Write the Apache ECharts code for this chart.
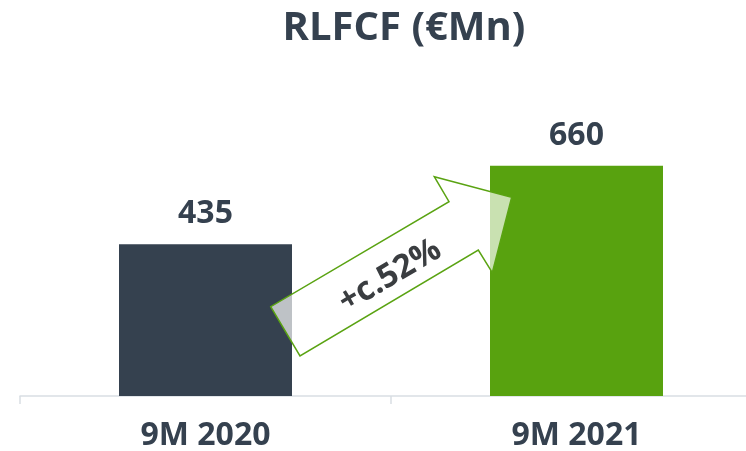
<!DOCTYPE html>
<html>
<head>
<meta charset="utf-8">
<script src="https://cdn.jsdelivr.net/npm/echarts@6/dist/echarts.min.js"></script>
<style>html,body{margin:0;padding:0;background:#fff}#c{width:746px;height:451px}</style>
</head>
<body>
<div id="c"></div>
<script>
const title = 'RLFCF (€Mn)';
const categories = ['9M 2020', '9M 2021'];
const values = [435, 660];
const barColors = ['#35414f', '#58a20f'];
const growthLabel = '+c.52%';

const chart = echarts.init(document.getElementById('c'), null, {renderer: 'canvas'});
const textColor = '#35414f';
const font = '"Open Sans", Lato, sans-serif';

chart.setOption({
  animation: false,
  title: {
    text: title,
    left: 399,
    top: 4,
    textAlign: 'center',
    textStyle: {fontFamily: font, fontWeight: 'bold', fontSize: 40, color: textColor}
  },
  grid: {left: 20, top: 47, width: 742, height: 349, outerBoundsMode: 'none', containLabel: false},
  xAxis: {
    type: 'category',
    data: categories,
    axisLine: {lineStyle: {color: '#d9dee3', width: 1.5}},
    axisTick: {show: true, length: 8, lineStyle: {color: '#d9dee3', width: 1.5}},
    axisLabel: {fontFamily: font, fontWeight: 'bold', fontSize: 32, color: textColor, margin: 24}
  },
  yAxis: {type: 'value', min: 0, max: 1000, show: false, splitLine: {show: false}},
  series: [{
    type: 'bar',
    barWidth: 173,
    data: values.map((v, i) => ({value: v, itemStyle: {color: barColors[i]}})),
    label: {show: true, position: 'top', distance: 14, fontFamily: font, fontWeight: 'bold', fontSize: 32, color: textColor},
    z: 1
  }],
  graphic: [
    {
      type: 'polygon',
      z: 10,
      shape: {points: [[270.7, 306.7], [300, 356], [478.3, 250], [492.3, 272.7], [511.7, 197.3], [434.3, 176.7], [449, 201.7]]},
      style: {fill: 'rgba(255,255,255,0.68)', stroke: '#5aa312', lineWidth: 1.5}
    },
    {
      type: 'text',
      z: 11,
      x: 390, y: 276,
      rotation: 30.6 * Math.PI / 180,
      style: {text: growthLabel, fontFamily: font, fontWeight: 'bold', fontSize: 33, fill: '#3a3d40', align: 'center', verticalAlign: 'middle'}
    }
  ]
});
</script>
</body>
</html>
